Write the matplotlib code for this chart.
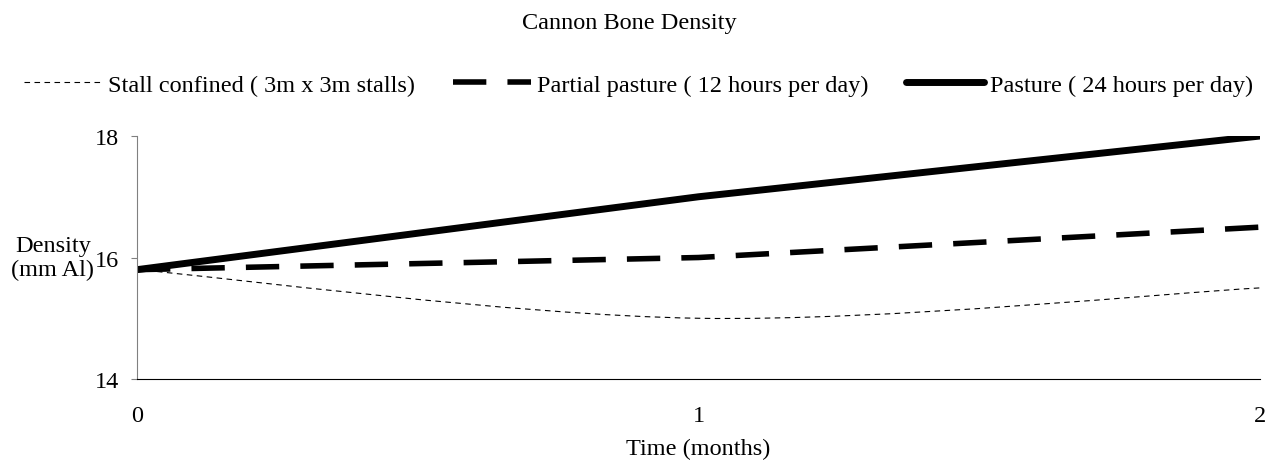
import numpy as np
import matplotlib.pyplot as plt
from matplotlib.path import Path
from matplotlib.patches import PathPatch
from matplotlib.lines import Line2D

plt.rcParams['font.family'] = ['Liberation Serif', 'DejaVu Serif']

months = [0, 1, 2]
stall = [15.8, 15.0, 15.5]
partial = [15.8, 16.0, 16.5]
pasture = [15.8, 17.0, 18.0]
labels = ['Stall confined ( 3m x 3m stalls)',
          'Partial pasture ( 12 hours per day)',
          'Pasture ( 24 hours per day)']

FS = 17.5


def smooth_path(x, y):
    # bezier through the points, like a spreadsheet "smoothed line"
    pts = np.column_stack([x, y]).astype(float)
    n = len(pts)
    verts = [pts[0]]
    codes = [Path.MOVETO]
    for i in range(n - 1):
        p0 = pts[i - 1] if i > 0 else pts[i]
        p1 = pts[i]
        p2 = pts[i + 1]
        p3 = pts[i + 2] if i + 2 < n else pts[i + 1]
        c1 = p1 + (p2 - p0) / 6
        c2 = p2 - (p3 - p1) / 6
        verts += [c1, c2, p2]
        codes += [Path.CURVE4] * 3
    return Path(verts, codes)


fig = plt.figure(figsize=(12.77, 4.64), dpi=100)
ax = fig.add_axes([0.1073, 0.181, 0.8794, 0.5237])

stall_style = dict(color='black', lw=0.8, dashes=(5, 4))
partial_style = dict(color='black', lw=4, dashes=(6, 3.8))
pasture_style = dict(color='black', lw=5, solid_capstyle='round')

ax.add_patch(PathPatch(smooth_path(months, stall), fill=False,
                       edgecolor='black', lw=0.8, linestyle=(0, (5, 4))))
ax.plot(months, partial, **partial_style)
ax.plot(months, pasture, **pasture_style)

ax.set_xlim(0, 2)
ax.set_ylim(14, 18)
ax.set_xticks(months)
ax.set_yticks([14, 16, 18])
ax.tick_params(axis='x', length=0, pad=19, labelsize=FS)
ax.tick_params(axis='y', length=4, color='#808080', labelsize=FS, pad=9)
for s in ['top', 'right']:
    ax.spines[s].set_visible(False)
ax.spines['left'].set_color('#808080')
ax.spines['bottom'].set_color('black')

ax.set_xlabel('Time (months)', fontsize=FS, labelpad=8)
ax.set_ylabel('Density\n(mm Al)', fontsize=FS, rotation=0, ha='center',
              va='center', linespacing=1.15)
ax.yaxis.set_label_coords(-0.075, 0.5)

fig.text(0.493, 0.95, 'Cannon Bone Density', ha='center', va='center',
         fontsize=FS)

handles = [Line2D([], [], **stall_style),
           Line2D([], [], **partial_style),
           Line2D([], [], **pasture_style)]
fig.legend(handles, labels, loc='center', bbox_to_anchor=(0.5, 0.815), ncol=3,
           frameon=False, fontsize=FS, handlelength=3.2, handletextpad=0.25,
           columnspacing=1.55)

fig.savefig('out.png', dpi=100)
